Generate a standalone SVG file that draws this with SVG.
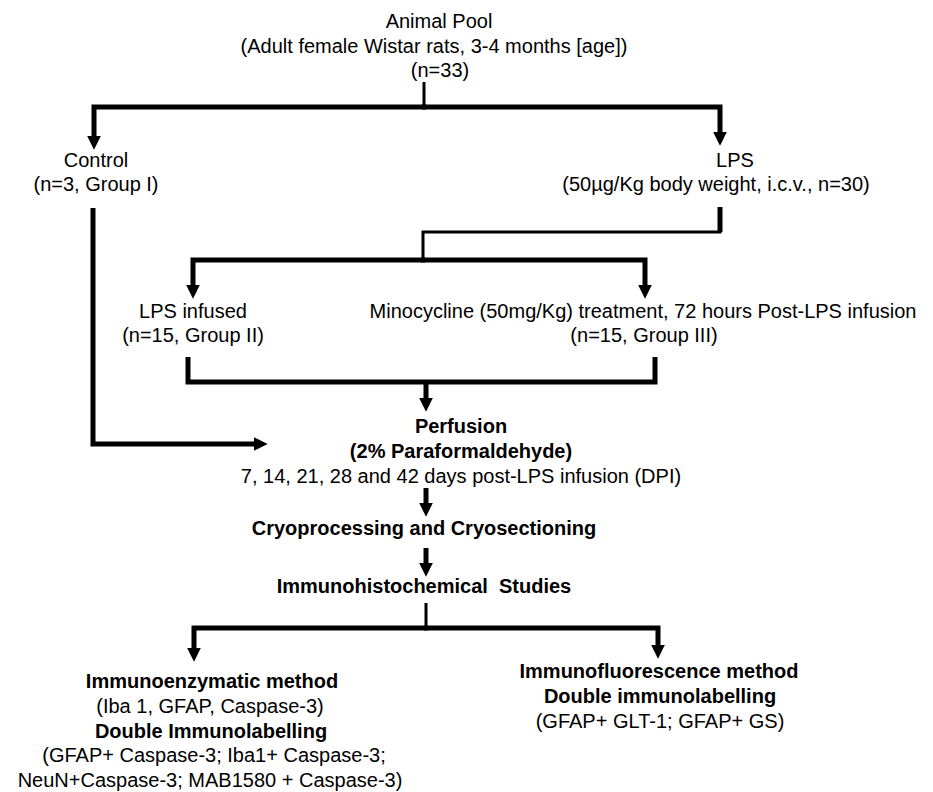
<svg xmlns="http://www.w3.org/2000/svg" width="933" height="792" viewBox="0 0 933 792">
<style>
text{font-family:"Liberation Sans",Arial,sans-serif;font-size:20px;fill:#000;text-anchor:middle;white-space:pre}
.b{font-weight:bold}
.c{fill:none;stroke:#000;stroke-width:5;stroke-linejoin:miter}
.t{fill:none;stroke:#000;stroke-width:3}
.a{marker-end:url(#ah)}
</style>
<defs>
<marker id="ah" markerUnits="userSpaceOnUse" markerWidth="14" markerHeight="14" viewBox="0 0 12 12" refX="2" refY="6" orient="auto">
<path d="M0,0 L12,6 L0,12 z" fill="#000"/>
</marker>
</defs>
<rect width="933" height="792" fill="#fff"/>
<g id="connectors">
<path class="t" d="M424,82 V107"/>
<path class="c a" d="M426,107 H94 V138"/>
<path class="c a" d="M422,107 H720 V134"/>
<path class="t" d="M720,207 V232 H423 V260"/>
<path class="c" d="M720,207 V232"/>
<path class="c a" d="M425,260 H193 V287"/>
<path class="c a" d="M421,260 H645 V287"/>
<path class="c" d="M188,357 V382 H655 V357"/>
<path class="c a" d="M426,382 V400"/>
<path class="c a" d="M93,208 V444 H256"/>
<path class="c a" d="M426,488 V505"/>
<path class="c a" d="M426,548 V565"/>
<path class="t" d="M426,603 V628"/>
<path class="c a" d="M428,628 H194 V650"/>
<path class="c a" d="M424,628 H658 V647"/>
</g>
<g id="animal-pool">
<text x="439" y="28">Animal Pool</text>
<text x="434" y="53">(Adult female Wistar rats, 3-4 months [age])</text>
<text x="440" y="77">(n=33)</text>
</g>
<g id="control">
<text x="96" y="167">Control</text>
<text x="96" y="191">(n=3, Group I)</text>
</g>
<g id="lps">
<text x="735" y="167">LPS</text>
<text x="716" y="191">(50µg/Kg body weight, i.c.v., n=30)</text>
</g>
<g id="lps-infused">
<text x="193" y="318">LPS infused</text>
<text x="193" y="342">(n=15, Group II)</text>
</g>
<g id="minocycline">
<text x="643" y="318">Minocycline (50mg/Kg) treatment, 72 hours Post-LPS infusion</text>
<text x="644" y="342">(n=15, Group III)</text>
</g>
<g id="perfusion">
<text class="b" x="461" y="433">Perfusion</text>
<text class="b" x="461" y="458">(2% Paraformaldehyde)</text>
<text x="461" y="483">7, 14, 21, 28 and 42 days post-LPS infusion (DPI)</text>
</g>
<g id="cryo">
<text class="b" x="424" y="535">Cryoprocessing and Cryosectioning</text>
</g>
<g id="ihc">
<text class="b" x="424" y="593">Immunohistochemical  Studies</text>
</g>
<g id="immunoenzymatic">
<text class="b" x="212" y="688">Immunoenzymatic method</text>
<text x="210" y="713">(Iba 1, GFAP, Caspase-3)</text>
<text class="b" x="211" y="738">Double Immunolabelling</text>
<text x="214" y="762">(GFAP+ Caspase-3; Iba1+ Caspase-3;</text>
<text x="210" y="787">NeuN+Caspase-3; MAB1580 + Caspase-3)</text>
</g>
<g id="immunofluorescence">
<text class="b" x="659" y="678">Immunofluorescence method</text>
<text class="b" x="660" y="703">Double immunolabelling</text>
<text x="660" y="728">(GFAP+ GLT-1; GFAP+ GS)</text>
</g>
</svg>
